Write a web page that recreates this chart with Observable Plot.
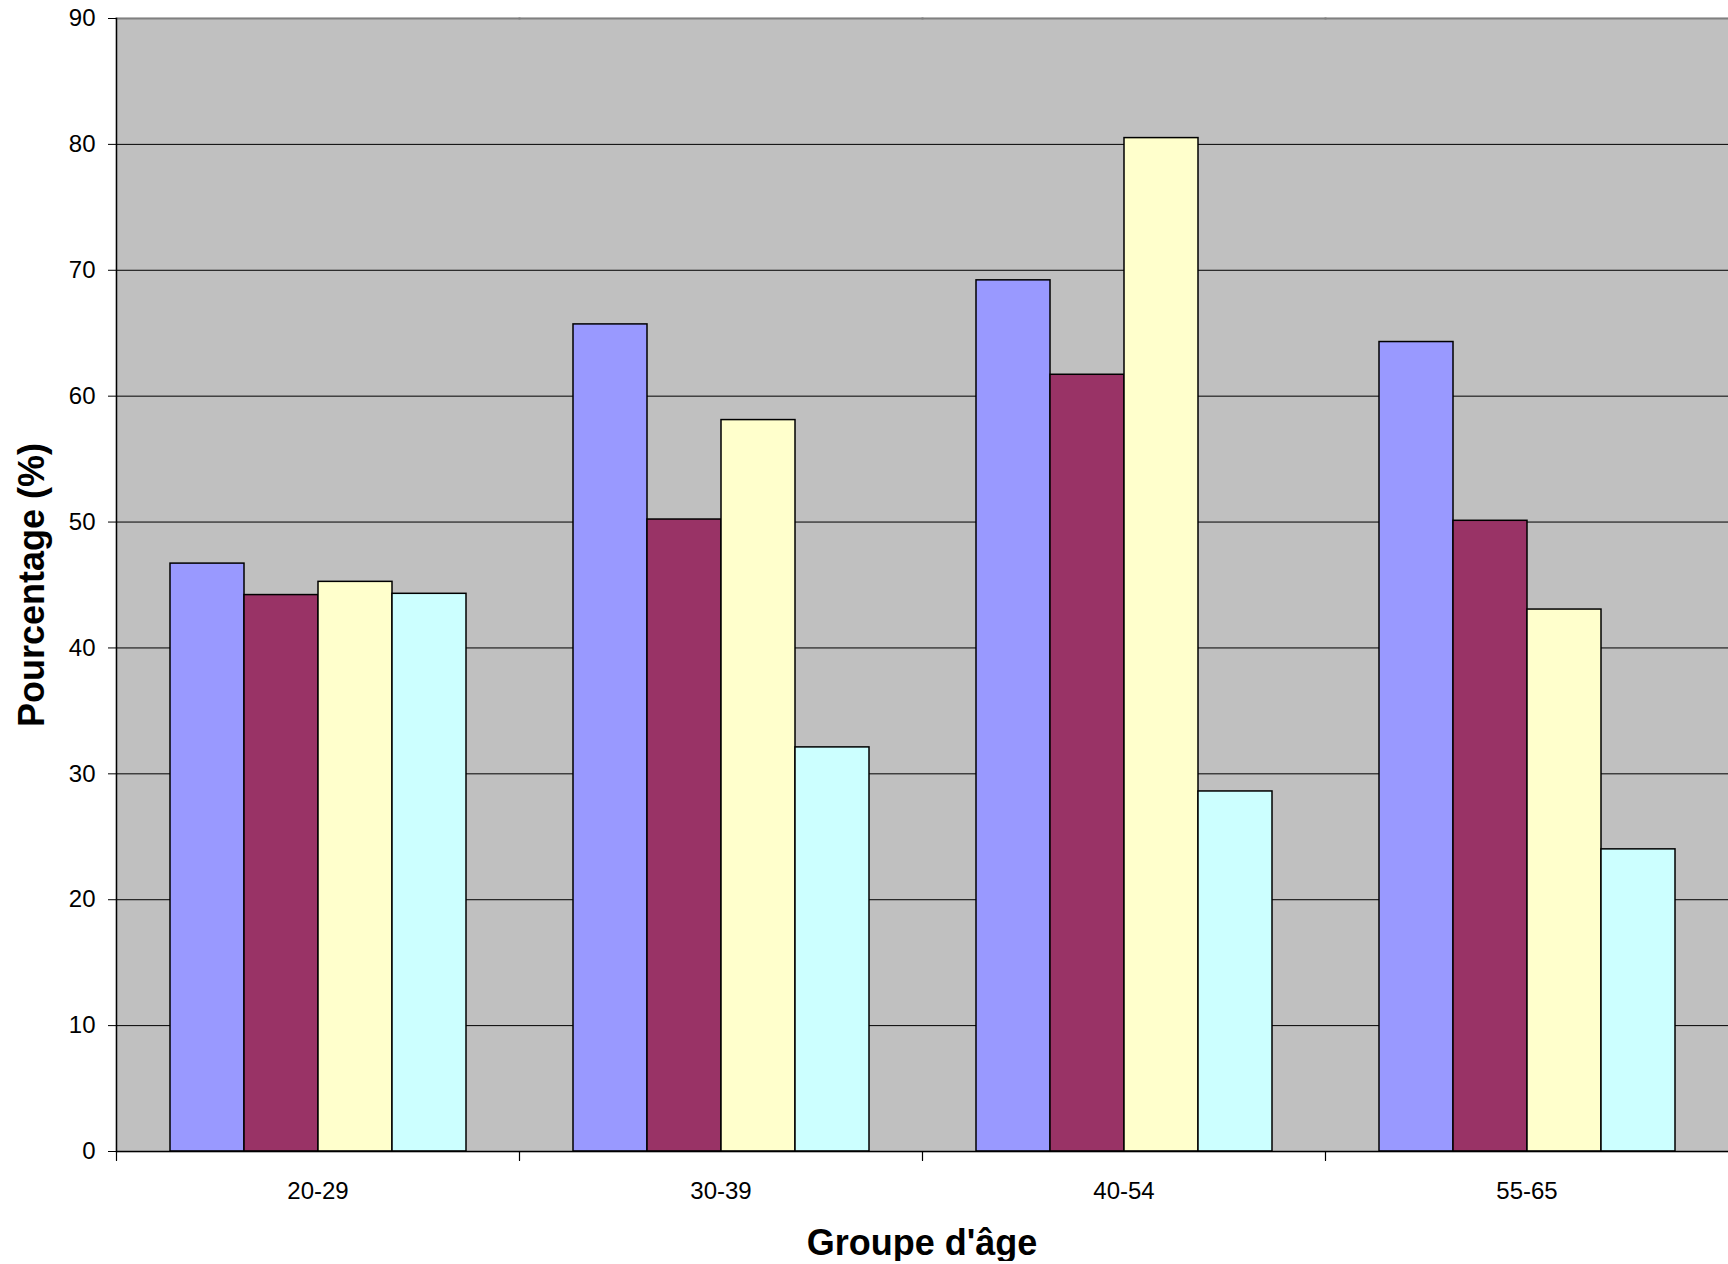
<!DOCTYPE html>
<html>
<head>
<meta charset="utf-8">
<script src="https://cdn.jsdelivr.net/npm/d3@7"></script>
<script src="https://cdn.jsdelivr.net/npm/@observablehq/plot@0.6"></script>
<style>
  html, body { margin: 0; padding: 0; background: #ffffff; }
  #chart { width: 1728px; height: 1222px; }
  #xtitle {
    width: 1612px; margin-left: 116px; margin-top: 3px; text-align: center;
    font-family: "Liberation Sans", Arial, sans-serif; font-weight: bold;
    font-size: 36px; line-height: 36px; color: #000;
  }
  #chart svg { display: block; }
</style>
</head>
<body>
<div id="chart"></div>
<div id="xtitle"></div>
<script>
const groups = ["20-29", "30-39", "40-54", "55-65"];
const seriesNames = ["Série 1", "Série 2", "Série 3", "Série 4"];
const serie1 = [46.7, 65.7, 69.2, 64.3];
const serie2 = [44.2, 50.2, 61.7, 50.1];
const serie3 = [45.25, 58.1, 80.5, 43.05];
const serie4 = [44.3, 32.1, 28.6, 24.0];
const seriesColors = ["#9999FF", "#993366", "#FFFFCC", "#CCFFFF"];
const yTicks = [0, 10, 20, 30, 40, 50, 60, 70, 80, 90];
const yTitle = "Pourcentage (%)";
const xTitle = "Groupe d'âge";

const allSeries = [serie1, serie2, serie3, serie4];
const data = [];
groups.forEach((g, gi) => {
  seriesNames.forEach((s, si) => {
    data.push({group: g, series: s, value: allSeries[si][gi]});
  });
});

const chart = Plot.plot({
  width: 1728,
  height: 1222,
  marginTop: 18,
  marginBottom: 71,
  marginLeft: 116,
  marginRight: 0,
  style: {fontFamily: "'Liberation Sans', Arial, sans-serif", fontSize: "24px", background: "#ffffff", color: "#000"},
  fx: {domain: groups, padding: 0, label: null},
  x: {domain: seriesNames, paddingInner: 0, paddingOuter: 0.72, axis: null},
  y: {domain: [0, 90], axis: null},
  color: {domain: seriesNames, range: seriesColors},
  marks: [
    Plot.frame({fill: "#C0C0C0", stroke: "#C0C0C0", strokeWidth: 1.5}),
    Plot.gridY(yTicks.filter(t => t > 0 && t < 90), {stroke: "#000", strokeOpacity: 1, strokeWidth: 1}),
    Plot.barY(data, {fx: "group", x: "series", y: "value", fill: "series", stroke: "#000", strokeWidth: 1.5, inset: 0}),
    Plot.frame({anchor: "top", stroke: "#808080", strokeWidth: 2}),
    Plot.ruleY([0], {stroke: "#000", strokeWidth: 1.5}),
    Plot.frame({anchor: "left", stroke: "#000", strokeWidth: 1.5, facetAnchor: "left"}),
    Plot.vector(groups, {fx: d => d, frameAnchor: "bottom-left", length: 9, rotate: 180, shape: "spike", r: 0, anchor: "start", stroke: "#000", strokeWidth: 1.2}),
    Plot.axisY({ticks: yTicks, tickSize: 8, tickPadding: 13, fontSize: 24, label: null, stroke: "#000"}),
    Plot.axisFx({anchor: "bottom", tickSize: 0, tickPadding: 30, fontSize: 24, label: null}),
    Plot.text([yTitle], {text: d => d, frameAnchor: "left", rotate: -90, dx: -84, fontSize: 36, fontWeight: "bold", textAnchor: "middle", lineAnchor: "middle", facetAnchor: "left"})
  ]
});
document.getElementById("chart").appendChild(chart);
document.getElementById("xtitle").textContent = xTitle;
</script>
</body>
</html>
